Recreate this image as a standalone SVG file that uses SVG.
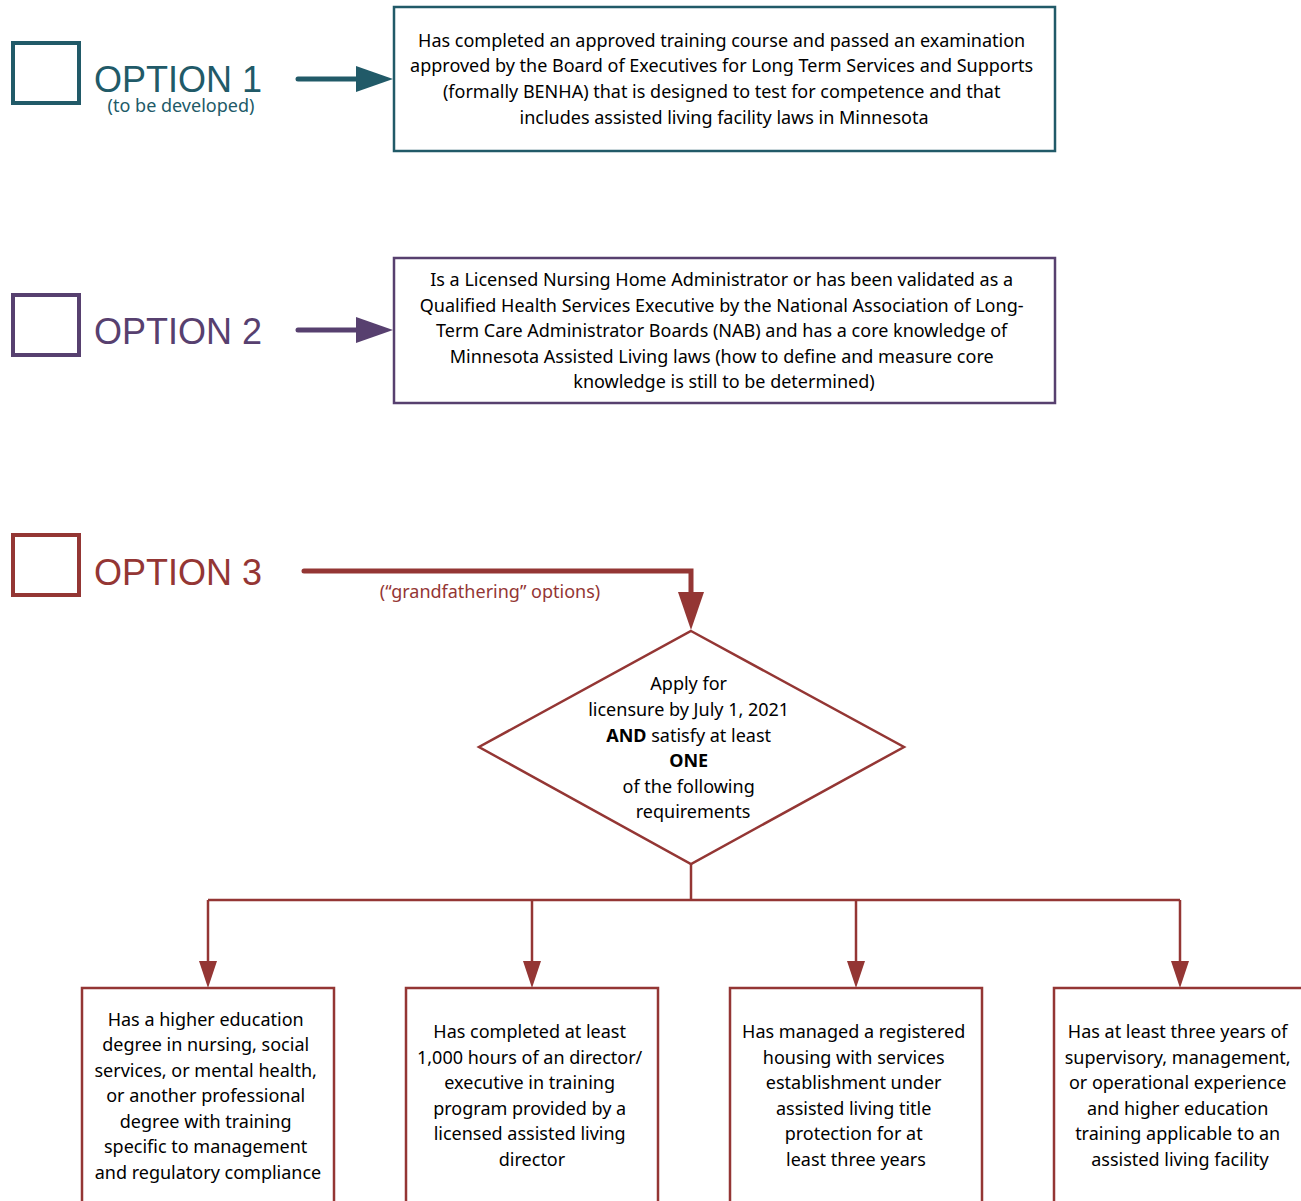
<svg xmlns="http://www.w3.org/2000/svg" width="1301" height="1201" viewBox="0 0 1301 1201">
<defs>
<style>
text{font-family:"Noto Sans","Open Sans",sans-serif;}
.t{font-size:18px;fill:#000;text-anchor:middle;}
.opt{font-family:"Liberation Sans",Arial,sans-serif;font-size:36px;}
.teal{fill:none;stroke:#215A68;}
.purple{fill:none;stroke:#57406F;}
.red{fill:none;stroke:#943634;}
.box{stroke-width:2.5;fill:#fff;}
.sq{stroke-width:4;fill:#fff;}
.tarrow{stroke-width:5;stroke-linecap:round;}
</style>
</defs>
<rect width="1301" height="1201" fill="#fff"/>
<g id="connectors">
<line x1="298" y1="79" x2="358" y2="79" class="teal tarrow"/>
<polygon points="356,66 393,79 356,92" fill="#215A68"/>
<line x1="298" y1="330" x2="358" y2="330" class="purple tarrow"/>
<polygon points="356,317 393,330 356,343" fill="#57406F"/>
<polyline points="304,571 691,571 691,594" class="red" stroke-width="5" stroke-linecap="round" stroke-linejoin="miter"/>
<polygon points="678,592 704,592 691,630" fill="#943634"/>
<g class="red" stroke-width="2.5">
<line x1="691" y1="864" x2="691" y2="900"/>
<line x1="208" y1="900" x2="1180" y2="900"/>
<line x1="208" y1="900" x2="208" y2="964"/>
<line x1="532" y1="900" x2="532" y2="964"/>
<line x1="856" y1="900" x2="856" y2="964"/>
<line x1="1180" y1="900" x2="1180" y2="964"/>
</g>
<g fill="#943634">
<polygon points="199,961 217,961 208,988"/>
<polygon points="523,961 541,961 532,988"/>
<polygon points="847,961 865,961 856,988"/>
<polygon points="1171,961 1189,961 1180,988"/>
</g>
<text x="490" y="598" class="t" style="fill:#943634">(“grandfathering” options)</text>
</g>
<g id="option1">
<rect x="13" y="43" width="66" height="60" class="teal sq"/>
<text x="94" y="92" class="opt" fill="#215A68">OPTION 1</text>
<text x="181" y="112" font-size="18" fill="#215A68" text-anchor="middle">(to be developed)</text>
</g>
<g id="box1">
<rect x="394" y="7" width="661" height="144" class="teal box"/>
<text class="t">
<tspan x="724" y="47">Has completed an approved training course and passed an examination</tspan>
<tspan x="724" y="72">approved by the Board of Executives for Long Term Services and Supports</tspan>
<tspan x="724" y="98">(formally BENHA) that is designed to test for competence and that</tspan>
<tspan x="724" y="124">includes assisted living facility laws in Minnesota</tspan>
</text>
</g>
<g id="option2">
<rect x="13" y="295" width="66" height="60" class="purple sq"/>
<text x="94" y="344" class="opt" fill="#57406F">OPTION 2</text>
</g>
<g id="box2">
<rect x="394" y="258" width="661" height="145" class="purple box"/>
<text class="t">
<tspan x="724" y="286">Is a Licensed Nursing Home Administrator or has been validated as a</tspan>
<tspan x="724" y="312">Qualified Health Services Executive by the National Association of Long-</tspan>
<tspan x="724" y="337">Term Care Administrator Boards (NAB) and has a core knowledge of</tspan>
<tspan x="724" y="363">Minnesota Assisted Living laws (how to define and measure core</tspan>
<tspan x="724" y="388">knowledge is still to be determined)</tspan>
</text>
</g>
<g id="option3">
<rect x="13" y="535" width="66" height="60" class="red sq"/>
<text x="94" y="585" class="opt" fill="#943634">OPTION 3</text>
</g>
<g id="decision">
<polygon points="691,631 904,747 691,864 479,747" class="red" stroke-width="2.5" fill="#fff"/>
<text class="t">
<tspan x="691" y="690">Apply for</tspan>
<tspan x="691" y="716">licensure by July 1, 2021</tspan>
<tspan x="691" y="742"><tspan font-weight="bold">AND</tspan> satisfy at least</tspan>
<tspan x="691" y="767" font-weight="bold">ONE</tspan>
<tspan x="691" y="793">of the following</tspan>
<tspan x="693" y="818">requirements</tspan>
</text>
</g>
<g id="req1">
<rect x="82" y="988" width="252" height="230" class="red box"/>
<text class="t">
<tspan x="208" y="1026">Has a higher education</tspan>
<tspan x="208" y="1051">degree in nursing, social</tspan>
<tspan x="208" y="1077">services, or mental health,</tspan>
<tspan x="208" y="1102">or another professional</tspan>
<tspan x="208" y="1128">degree with training</tspan>
<tspan x="208" y="1153">specific to management</tspan>
<tspan x="208" y="1179">and regulatory compliance</tspan>
</text>
</g>
<g id="req2">
<rect x="406" y="988" width="252" height="230" class="red box"/>
<text class="t">
<tspan x="532" y="1038">Has completed at least</tspan>
<tspan x="532" y="1064">1,000 hours of an director/</tspan>
<tspan x="532" y="1089">executive in training</tspan>
<tspan x="532" y="1115">program provided by a</tspan>
<tspan x="532" y="1140">licensed assisted living</tspan>
<tspan x="532" y="1166">director</tspan>
</text>
</g>
<g id="req3">
<rect x="730" y="988" width="252" height="230" class="red box"/>
<text class="t">
<tspan x="856" y="1038">Has managed a registered</tspan>
<tspan x="856" y="1064">housing with services</tspan>
<tspan x="856" y="1089">establishment under</tspan>
<tspan x="856" y="1115">assisted living title</tspan>
<tspan x="856" y="1140">protection for at</tspan>
<tspan x="856" y="1166">least three years</tspan>
</text>
</g>
<g id="req4">
<rect x="1054" y="988" width="252" height="230" class="red box"/>
<text class="t">
<tspan x="1180" y="1038">Has at least three years of</tspan>
<tspan x="1180" y="1064">supervisory, management,</tspan>
<tspan x="1180" y="1089">or operational experience</tspan>
<tspan x="1180" y="1115">and higher education</tspan>
<tspan x="1180" y="1140">training applicable to an</tspan>
<tspan x="1180" y="1166">assisted living facility</tspan>
</text>
</g>
</svg>
